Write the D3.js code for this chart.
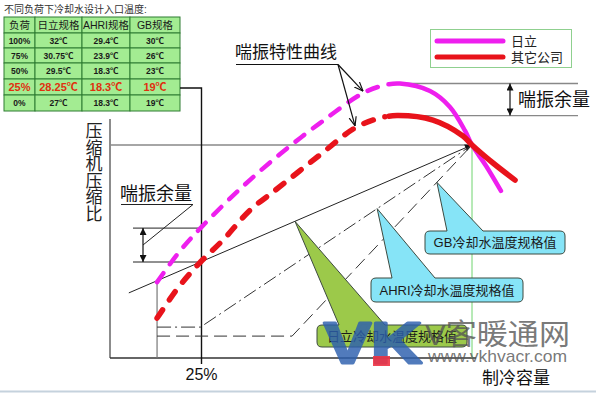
<html>
<head>
<script src="https://cdnjs.cloudflare.com/ajax/libs/d3/7.9.0/d3.min.js"></script>
<style>
  body { margin: 0; background: #fff; }
  text { font-family: "Liberation Sans", "Noto Sans CJK SC", sans-serif; }
</style>
</head>
<body>
<script>
// table data
const tableTitle = '不同负荷下冷却水设计入口温度:'
const tableHeader = ['负荷', '日立规格', 'AHRI规格', 'GB规格']
const loads = ['100%', '75%', '50%', '25%', '0%']
const hitachiTemp = ['32℃', '30.75℃', '29.5℃', '28.25℃', '27℃']
const ahriTemp = ['29.4℃', '23.9℃', '18.3℃', '18.3℃', '18.3℃']
const gbTemp = ['30℃', '26℃', '23℃', '19℃', '19℃']

// surge curves: [capacity %, compression ratio (relative)]
const hitachiSurge = [[13, 25.3], [19, 35.2], [25, 43.3], [35.9, 56.3], [47, 68], [58, 78.3], [69.9, 88.3], [76, 91], [80.1, 91.5], [88.4, 89], [93.9, 83.7], [98.1, 75.7], [100, 71], [103.9, 64], [108, 55.7]]
const otherSurge = [[13, 13.3], [19, 23.7], [25, 32], [31.2, 39.3], [38.7, 49.3], [45, 55.3], [58, 67.7], [67.7, 76.7], [74.6, 80], [79.3, 80.8], [89.2, 79.3], [97.5, 74], [100, 71], [105.8, 65], [111.9, 59.3]]
const dashedUntil = 77

// cooling water spec lines
const hitachiSpec = [[5.2, 21.7], [100, 71]]
const ahriSpec = [[13, 10.3], [25, 10.3], [100, 71]]
const gbSpec = [[13, 7.3], [50.3, 7.3], [100, 71]]

const legendNames = ['日立', '其它公司']
const yLabel = '压缩机压缩比'

const W = 596, H = 393
const svg = d3.select('body').append('svg').attr('width', W).attr('height', H)

const x = d3.scaleLinear().domain([0, 100]).range([110, 472])
const y = d3.scaleLinear().domain([0, 100]).range([358, 58])

const defs = svg.append('defs')
defs.append('marker').attr('id', 'tri').attr('viewBox', '0 0 10 10').attr('refX', 10).attr('refY', 5)
  .attr('markerWidth', 9).attr('markerHeight', 7).attr('orient', 'auto-start-reverse').attr('markerUnits', 'userSpaceOnUse')
  .append('path').attr('d', 'M0,0 L10,5 L0,10 Z').attr('fill', '#111')
defs.append('marker').attr('id', 'open').attr('viewBox', '0 0 10 10').attr('refX', 10).attr('refY', 5)
  .attr('markerWidth', 9).attr('markerHeight', 9).attr('orient', 'auto').attr('markerUnits', 'userSpaceOnUse')
  .append('path').attr('d', 'M0,1 L10,5 L0,9').attr('fill', 'none').attr('stroke', '#111').attr('stroke-width', 1.3)

// ---- table ----
svg.append('text').attr('x', 4).attr('y', 13).attr('font-size', 10).attr('fill', '#333').text(tableTitle)
const colX = [4, 35, 82, 130, 180]
const rowY = [17, 33, 48, 63, 79, 95, 111]
const rows = [tableHeader].concat(loads.map((l, i) => [l, hitachiTemp[i], ahriTemp[i], gbTemp[i]]))
const tbl = svg.append('g')
rows.forEach((r, ri) => {
  r.forEach((c, ci) => {
    tbl.append('rect').attr('x', colX[ci]).attr('y', rowY[ri]).attr('width', colX[ci + 1] - colX[ci]).attr('height', rowY[ri + 1] - rowY[ri])
      .attr('fill', '#a3ec92').attr('stroke', '#2f7d32').attr('stroke-width', 1)
    const hot = loads[ri - 1] === '25%'
    tbl.append('text').attr('x', (colX[ci] + colX[ci + 1]) / 2).attr('y', (rowY[ri] + rowY[ri + 1]) / 2)
      .attr('dy', '0.36em').attr('text-anchor', 'middle')
      .attr('font-size', ri === 0 ? 10.5 : hot ? 11 : 8.5)
      .attr('font-weight', ri === 0 ? 'normal' : 'bold')
      .attr('fill', hot ? '#e0300f' : '#1a1a1a')
      .text(c)
  })
})

// ---- axes ----
svg.append('line').attr('x1', x(0)).attr('x2', x(0)).attr('y1', 119).attr('y2', y(0)).attr('stroke', '#666').attr('stroke-width', 1.5)
svg.append('line').attr('x1', x(0)).attr('x2', 476).attr('y1', y(0)).attr('y2', y(0)).attr('stroke', '#333').attr('stroke-width', 1.3)
yLabel.split('').forEach((ch, i) => {
  svg.append('text').attr('x', 94).attr('y', 137 + i * 16.5).attr('text-anchor', 'middle').attr('font-size', 17).attr('fill', '#222').text(ch)
})
svg.append('text').attr('x', x(25) + 1).attr('y', 380).attr('text-anchor', 'middle').attr('font-size', 16).attr('fill', '#111').text('25%')
svg.append('text').attr('x', 482).attr('y', 384).attr('font-size', 17).attr('fill', '#111').text('制冷容量')

// helper lines
svg.append('line').attr('x1', x(0)).attr('x2', x(100)).attr('y1', y(71)).attr('y2', y(71)).attr('stroke', '#888').attr('stroke-width', 1.3)
svg.append('line').attr('x1', x(100)).attr('x2', x(100)).attr('y1', y(71)).attr('y2', y(0)).attr('stroke', '#6fd46f').attr('stroke-width', 1)
svg.append('line').attr('x1', x(13)).attr('x2', x(13)).attr('y1', y(25.3)).attr('y2', y(0)).attr('stroke', '#777').attr('stroke-width', 1.2)
// 25% marker from table
svg.append('polyline').attr('points', `180,88 ${x(25) + 1},88 ${x(25) + 1},364`).attr('fill', 'none').attr('stroke', '#111').attr('stroke-width', 1.4)

// spec lines
const lineGen = d3.line().x(d => x(d[0])).y(d => y(d[1]))
svg.append('path').attr('d', lineGen(hitachiSpec)).attr('fill', 'none').attr('stroke', '#222').attr('stroke-width', 1).attr('marker-end', 'url(#tri)')
svg.append('path').attr('d', lineGen(ahriSpec)).attr('fill', 'none').attr('stroke', '#333').attr('stroke-width', 1).attr('stroke-dasharray', '14,4,2,4')
svg.append('path').attr('d', lineGen(gbSpec)).attr('fill', 'none').attr('stroke', '#333').attr('stroke-width', 1).attr('stroke-dasharray', '13,6')

// surge margin (left)
const leftTop = hitachiSurge[2][1], leftBot = otherSurge[2][1]
;[leftTop, leftBot].forEach(v => svg.append('line').attr('x1', 133).attr('x2', x(25)).attr('y1', y(v)).attr('y2', y(v)).attr('stroke', '#222').attr('stroke-width', 1))
svg.append('line').attr('x1', 143).attr('x2', 143).attr('y1', y(leftTop)).attr('y2', y(leftBot)).attr('stroke', '#111').attr('stroke-width', 1.2)
  .attr('marker-start', 'url(#tri)').attr('marker-end', 'url(#tri)')
svg.append('text').attr('x', 120).attr('y', 200).attr('font-size', 18).attr('fill', '#111').text('喘振余量')
svg.append('polyline').attr('points', '121,204.5 193,204.5 143,245').attr('fill', 'none').attr('stroke', '#222').attr('stroke-width', 1)

// surge margin (right)
const topMax = d3.max(hitachiSurge, d => d[1]), botMax = d3.max(otherSurge, d => d[1])
;[topMax, botMax].forEach(v => svg.append('line').attr('x1', 398).attr('x2', 578).attr('y1', y(v)).attr('y2', y(v)).attr('stroke', '#888').attr('stroke-width', 1.3))
svg.append('line').attr('x1', 510).attr('x2', 510).attr('y1', y(topMax)).attr('y2', y(botMax)).attr('stroke', '#111').attr('stroke-width', 1.2)
  .attr('marker-start', 'url(#tri)').attr('marker-end', 'url(#tri)')
svg.append('text').attr('x', 518).attr('y', 106).attr('font-size', 18).attr('fill', '#111').text('喘振余量')

// surge curves
const curveGen = d3.line().x(d => x(d[0])).y(d => y(d[1])).curve(d3.curveCatmullRom.alpha(0.5))
function surge(data, color, width, dashLen) {
  const p = svg.append('path').attr('d', curveGen(data)).attr('fill', 'none').attr('stroke', color)
    .attr('stroke-width', width).attr('stroke-linecap', 'round')
  const node = p.node()
  const total = node.getTotalLength()
  let lo = 0, hi = total
  for (let k = 0; k < 30; k++) {
    const mid = (lo + hi) / 2
    if (node.getPointAtLength(mid).x < x(dashedUntil)) lo = mid; else hi = mid
  }
  const period = 22
  const dash = []
  let acc = 0
  while (acc + period < lo) { dash.push(dashLen, period - dashLen); acc += period }
  dash.push(0, lo - acc, total, 0)
  p.attr('stroke-dasharray', dash.join(','))
}
surge(hitachiSurge, '#ee1fee', 4.5, 11)
surge(otherSurge, '#e8131b', 5.5, 10)

// label with arrows
svg.append('text').attr('x', 235).attr('y', 58).attr('font-size', 17).attr('fill', '#111').text('喘振特性曲线')
svg.append('line').attr('x1', 236).attr('x2', 338).attr('y1', 64.5).attr('y2', 64.5).attr('stroke', '#111').attr('stroke-width', 1)
;[hitachiSurge[6], otherSurge[7]].forEach(d => {
  svg.append('line').attr('x1', 338).attr('y1', 64.5).attr('x2', x(d[0])).attr('y2', y(d[1]) - 2)
    .attr('stroke', '#111').attr('stroke-width', 1.2).attr('marker-end', 'url(#open)')
})

// legend
const lg = svg.append('g')
lg.append('rect').attr('x', 430.5).attr('y', 29.5).attr('width', 141).attr('height', 38).attr('fill', '#fff').attr('stroke', '#8fd08f').attr('stroke-width', 1)
legendNames.forEach((n, i) => {
  lg.append('line').attr('x1', 437).attr('x2', 503).attr('y1', 41 + i * 16).attr('y2', 41 + i * 16)
    .attr('stroke', i === 0 ? '#ee1fee' : '#e8131b').attr('stroke-width', 5).attr('stroke-linecap', 'round')
  lg.append('text').attr('x', 511).attr('y', 46 + i * 16).attr('font-size', 13).attr('fill', '#222').text(n)
})

// callouts
function pointOn(line, xv) {
  for (let i = 0; i < line.length - 1; i++) {
    const [a, b] = [line[i], line[i + 1]]
    if (xv >= a[0] && xv <= b[0]) return [xv, a[1] + (b[1] - a[1]) * (xv - a[0]) / (b[0] - a[0])]
  }
  return line[line.length - 1]
}
function callout(box, base, tip, fill, label) {
  const [x0, y0, x1, y1] = box, r = 5
  const tx = x(tip[0]), ty = y(tip[1])
  const d = `M${x0 + r},${y0} L${base[0]},${y0} L${tx},${ty} L${base[1]},${y0} L${x1 - r},${y0} Q${x1},${y0} ${x1},${y0 + r} L${x1},${y1 - r} Q${x1},${y1} ${x1 - r},${y1} L${x0 + r},${y1} Q${x0},${y1} ${x0},${y1 - r} L${x0},${y0 + r} Q${x0},${y0} ${x0 + r},${y0} Z`
  svg.append('path').attr('d', d).attr('fill', fill).attr('stroke', '#3d4a40').attr('stroke-width', 1)
  svg.append('text').attr('x', (x0 + x1) / 2).attr('y', (y0 + y1) / 2).attr('dy', '0.36em').attr('text-anchor', 'middle')
    .attr('font-size', 13).attr('fill', '#1a1a1a').text(label)
}
callout([425, 231, 565, 254], [447, 483], pointOn(gbSpec, 90.3), '#86e4f7', 'GB冷却水温度规格值')
callout([371, 278, 523, 302], [392, 435], pointOn(ahriSpec, 73.8), '#86e4f7', 'AHRI冷却水温度规格值')
callout([317, 325, 467, 347], [339, 385], pointOn(hitachiSpec, 51.1), '#9cc94a', '日立冷却水温度规格值')

// watermark
const wm = svg.append('g')
wm.append('text').attr('x', 324).attr('y', 363).attr('font-size', 58).attr('font-weight', 'bold')
  .attr('textLength', 98).attr('lengthAdjust', 'spacingAndGlyphs')
  .attr('fill', '#2c5fae').attr('stroke', '#2c5fae').attr('stroke-width', 3).attr('stroke-linejoin', 'round')
  .attr('opacity', 0.82).text('VK')
wm.append('rect').attr('x', 373).attr('y', 356).attr('width', 17).attr('height', 10).attr('fill', '#ee3344').attr('fill-opacity', 0.9)
wm.append('text').attr('x', 425).attr('y', 345).attr('font-size', 29).attr('fill', '#555').attr('fill-opacity', 0.8)
  .attr('textLength', 145).attr('lengthAdjust', 'spacingAndGlyphs').text('V客暖通网')
wm.append('text').attr('x', 428).attr('y', 362).attr('font-size', 17).attr('fill', '#555').attr('fill-opacity', 0.8)
  .attr('textLength', 139).attr('lengthAdjust', 'spacingAndGlyphs').text('www.vkhvacr.com')

svg.append('line').attr('x1', 0).attr('x2', W).attr('y1', 391.5).attr('y2', 391.5).attr('stroke', '#c5d2dd').attr('stroke-width', 2)
</script>
</body>
</html>
